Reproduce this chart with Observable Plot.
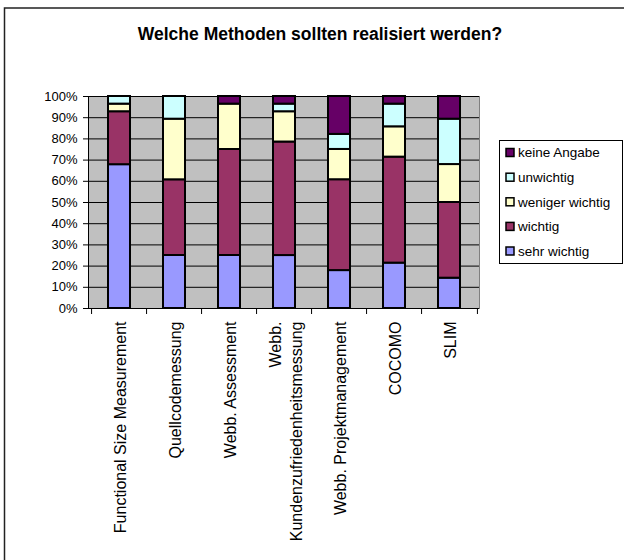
<!DOCTYPE html>
<html><head><meta charset="utf-8">
<script src="https://cdn.jsdelivr.net/npm/d3@7"></script>
<script src="https://cdn.jsdelivr.net/npm/@observablehq/plot@0.6"></script>
<style>html,body{margin:0;padding:0;background:#fff;overflow:hidden} #chart{width:624px;height:560px;overflow:hidden} #chart svg{display:block;overflow:hidden}</style>
</head><body><div id="chart"></div>
<script>
const title = "Welche Methoden sollten realisiert werden?";
const categories = ["Functional Size Measurement", "Quellcodemessung", "Webb. Assessment", "Webb.\nKundenzufriedenheitsmessung", "Webb. Projektmanagement", "COCOMO", "SLIM"];
const levels = ["sehr wichtig", "wichtig", "weniger wichtig", "unwichtig", "keine Angabe"];
const colors = ["#9999FF", "#993366", "#FFFFCC", "#CCFFFF", "#660066"];
const sehrWichtig    = [67.9, 25.0, 25.0, 25.0, 17.9, 21.4, 14.3];
const wichtig        = [25.0, 35.7, 50.0, 53.6, 42.9, 50.0, 35.7];
const wenigerWichtig = [3.6, 28.6, 21.4, 14.3, 14.3, 14.3, 17.9];
const unwichtig      = [3.6, 10.7, 0, 3.6, 7.1, 10.7, 21.4];
const keineAngabe    = [0, 0, 3.6, 3.6, 17.9, 3.6, 10.7];
const yTicks = [0, 0.1, 0.2, 0.3, 0.4, 0.5, 0.6, 0.7, 0.8, 0.9, 1];

const series = [sehrWichtig, wichtig, wenigerWichtig, unwichtig, keineAngabe];
const rows = levels.flatMap((lvl, j) => categories.map((c, i) => ({category: c, level: lvl, value: series[j][i]})))
  .filter(d => d.value > 0);

const W = 624, H = 560, mL = 88, mR = 145, mT = 96, mB = 252;
const n = categories.length;
const step = (W - mL - mR) / n;

const plot = Plot.plot({
  width: W, height: H,
  marginLeft: mL, marginRight: mR, marginTop: mT, marginBottom: mB,
  style: {fontFamily: "'Liberation Sans', Arial, sans-serif", fontSize: "13px", color: "black", background: "white"},
  x: {domain: categories, paddingInner: 0.6, paddingOuter: 0.3, axis: null},
  y: {domain: [0, 1], axis: null},
  color: {domain: levels, range: colors},
  marks: [
    Plot.frame({fill: "#C0C0C0", stroke: "#808080"}),
    Plot.gridY(yTicks, {stroke: "black", strokeOpacity: 1}),
    Plot.barY(rows, Plot.stackY({x: "category", y: "value", fill: "level", stroke: "black", strokeWidth: 2, offset: "normalize"})),
    Plot.axisY(yTicks, {tickFormat: d => Math.round(d * 100) + "%", tickSize: 5, tickPadding: 6, fontSize: 13, label: null, stroke: "black"}),
    Plot.frame({anchor: "left", stroke: "black"}),
    Plot.ruleY([0], {stroke: "black"}),
    Plot.ruleX(categories, {x: d => d, dx: -step / 2, y1: 0, y2: 0, insetBottom: -6, stroke: "black"}),
    Plot.ruleX([categories[n - 1]], {x: d => d, dx: step / 2, y1: 0, y2: 0, insetBottom: -6, stroke: "black"}),
    Plot.text(categories, {x: d => d, text: d => d, frameAnchor: "bottom", dy: 13, rotate: -90, textAnchor: "end", lineAnchor: "middle", lineHeight: 1.3, fontSize: 16, fill: "black"})
  ]
});

const svg = d3.select(plot);
// outer chart border (left and top edges only)
svg.append("path").attr("d", `M4.5,${H + 5} V8 H${W + 5}`).attr("fill", "none").attr("stroke", "#222").attr("stroke-width", 1.5);
// title
svg.append("text").attr("x", 320).attr("y", 40).attr("text-anchor", "middle")
  .attr("font-size", 17.5).attr("font-weight", "bold").attr("fill", "black").text(title);
// legend
const lg = svg.append("g").attr("text-anchor", "start");
lg.append("rect").attr("x", 499.5).attr("y", 140.5).attr("width", 123).attr("height", 123)
  .attr("fill", "white").attr("stroke", "black");
const legendOrder = levels.slice().reverse();
const legendColors = colors.slice().reverse();
const ys = [152.5, 177.2, 201.8, 226.4, 251];
legendOrder.forEach((lvl, k) => {
  lg.append("rect").attr("x", 506).attr("y", ys[k] - 4).attr("width", 8).attr("height", 8)
    .attr("fill", legendColors[k]).attr("stroke", "black").attr("stroke-width", 1.5);
  lg.append("text").attr("x", 518).attr("y", ys[k]).attr("dy", "0.35em").attr("font-size", 13.5)
    .attr("text-anchor", "start").attr("fill", "black").text(lvl);
});
document.getElementById("chart").appendChild(plot);
</script>
</body></html>
